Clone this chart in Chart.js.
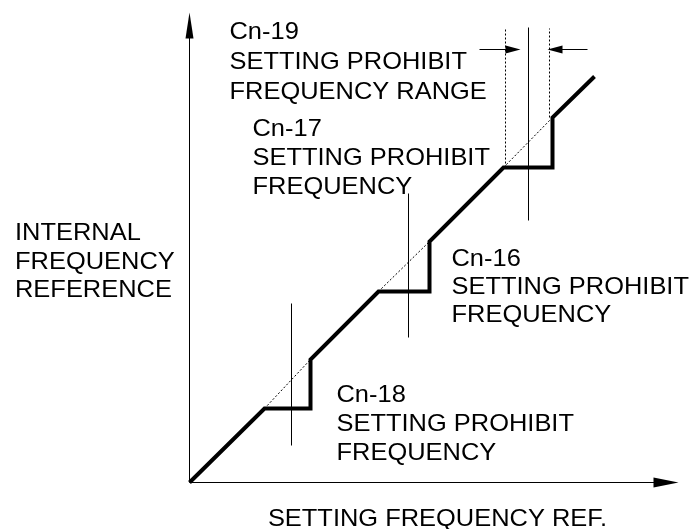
<!DOCTYPE html>
<html>
<head>
<meta charset="utf-8">
<script src="https://cdn.jsdelivr.net/npm/chart.js@4.4.1/dist/chart.umd.min.js"></script>
<style>
html,body{margin:0;padding:0;background:#fff;}
#wrap{width:695px;height:529px;}
</style>
</head>
<body>
<div id="wrap"><canvas id="c" width="695" height="529"></canvas></div>
<script>
// ---- data (chart units) ----
const xMax = 489;
const yMax = 470;
// output (internal frequency reference) vs setting frequency reference
const responseX = [0, 75, 121, 121, 189, 240, 240, 314, 363, 363, 405];
const responseY = [0, 74, 74, 123, 191, 191, 241, 315, 315, 365, 406];
// dotted reference (y = x) across the jumps
const refStartX = [75, 189, 314];
const refEndX   = [121, 240, 363];
const refStartY = [74, 191, 315];
const refEndY   = [123, 241, 365];
// prohibit frequency pointer lines (Cn-18, Cn-16, Cn-17)
const pointerX    = [102, 219, 339];
const pointerLowY = [37, 145, 262];
const pointerHighY= [179, 289, 455];
// prohibit range edges (Cn-19)
const rangeEdgeX    = [316, 360];
const rangeEdgeLowY = [315, 365];
const rangeEdgeHighY= [454, 454];
const rangeArrowY   = 433;
const rangeArrowFromX = [290, 398];
const rangeArrowToX   = [331, 358];

const labelCn19 = ["Cn-19", "SETTING PROHIBIT", "FREQUENCY RANGE"];
const labelCn17 = ["Cn-17", "SETTING PROHIBIT", "FREQUENCY"];
const labelCn16 = ["Cn-16", "SETTING PROHIBIT", "FREQUENCY"];
const labelCn18 = ["Cn-18", "SETTING PROHIBIT", "FREQUENCY"];
const yTitle = ["INTERNAL", "FREQUENCY", "REFERENCE"];
const xTitle = "SETTING FREQUENCY REF.";

// ---- build datasets ----
const seg = (x1,y1,x2,y2) => [{x:x1,y:y1},{x:x2,y:y2}];
const datasets = [];
function addLine(points, width, dash){
  datasets.push({type:'line', data:points, borderColor:'#000', borderWidth:width,
    borderDash:dash||[], pointRadius:0, fill:false, tension:0, clip:false,
    borderCapStyle:'butt', borderJoinStyle:'miter'});
}
// axes
addLine(seg(0,0,xMax-20,0),1);
addLine(seg(0,0,0,yMax-20),1);
// dotted reference
for(let i=0;i<refStartX.length;i++) addLine(seg(refStartX[i],refStartY[i],refEndX[i],refEndY[i]),1,[2,2]);
// pointers
for(let i=0;i<pointerX.length;i++) addLine(seg(pointerX[i],pointerLowY[i],pointerX[i],pointerHighY[i]),1);
// range edges
for(let i=0;i<rangeEdgeX.length;i++) addLine(seg(rangeEdgeX[i],rangeEdgeLowY[i],rangeEdgeX[i],rangeEdgeHighY[i]),1,[2,2]);
// range arrows shafts
for(let i=0;i<rangeArrowFromX.length;i++){
  const dir = Math.sign(rangeArrowToX[i]-rangeArrowFromX[i]);
  addLine(seg(rangeArrowFromX[i],rangeArrowY,rangeArrowToX[i]-dir*14,rangeArrowY),1);
}
// main response
addLine(responseX.map((x,i)=>({x:x,y:responseY[i]})),4);

function arrowHead(ctx, tx, ty, dx, dy, len, half){
  const nx=-dy, ny=dx;
  ctx.beginPath();
  ctx.moveTo(tx,ty);
  ctx.lineTo(tx-dx*len+nx*half, ty-dy*len+ny*half);
  ctx.lineTo(tx-dx*len-nx*half, ty-dy*len-ny*half);
  ctx.closePath();
  ctx.fill();
}
function drawText(ctx, lines, x, y0, gap){
  lines.forEach((t,i)=>{
    ctx.save();
    ctx.translate(x, y0+i*gap);
    ctx.scale(1.06,1);
    ctx.fillText(t,0,0);
    ctx.restore();
  });
}
const overlay = {
  id:'overlay',
  afterDatasetsDraw(chart){
    const ctx=chart.ctx, xs=chart.scales.x, ys=chart.scales.y;
    ctx.save();
    ctx.fillStyle='#000';
    // axis arrowheads
    arrowHead(ctx, xs.getPixelForValue(xMax), ys.getPixelForValue(0), 1,0, 25,5);
    arrowHead(ctx, xs.getPixelForValue(0), ys.getPixelForValue(yMax), 0,-1, 26,4);
    // range arrowheads
    for(let i=0;i<rangeArrowFromX.length;i++){
      const dir=Math.sign(rangeArrowToX[i]-rangeArrowFromX[i]);
      arrowHead(ctx, xs.getPixelForValue(rangeArrowToX[i]), ys.getPixelForValue(rangeArrowY), dir,0, 15,4);
    }
    ctx.font='24px "Liberation Sans", Arial, sans-serif';
    ctx.textBaseline='alphabetic';
    ctx.textAlign='left';
    drawText(ctx, labelCn19, 229.5, 38.5, 30);
    drawText(ctx, labelCn17, 252.5, 135.5, 29);
    drawText(ctx, labelCn16, 451.5, 266, 28);
    drawText(ctx, labelCn18, 336.5, 401.5, 29);
    drawText(ctx, yTitle, 15, 240, 28.5);
    ctx.save();
    ctx.translate(437.5, 526);
    ctx.scale(1.06,1);
    ctx.textAlign='center';
    ctx.fillText(xTitle,0,0);
    ctx.restore();
    ctx.restore();
  }
};

new Chart(document.getElementById('c'), {
  type:'line',
  data:{datasets:datasets},
  options:{
    responsive:false,
    animation:false,
    events:[],
    layout:{padding:{left:189.5, right:16.5, top:12.5, bottom:46.5}},
    plugins:{legend:{display:false}, tooltip:{enabled:false}},
    scales:{
      x:{type:'linear', min:0, max:xMax, display:false},
      y:{type:'linear', min:0, max:yMax, display:false}
    }
  },
  plugins:[overlay]
});
</script>
</body>
</html>
